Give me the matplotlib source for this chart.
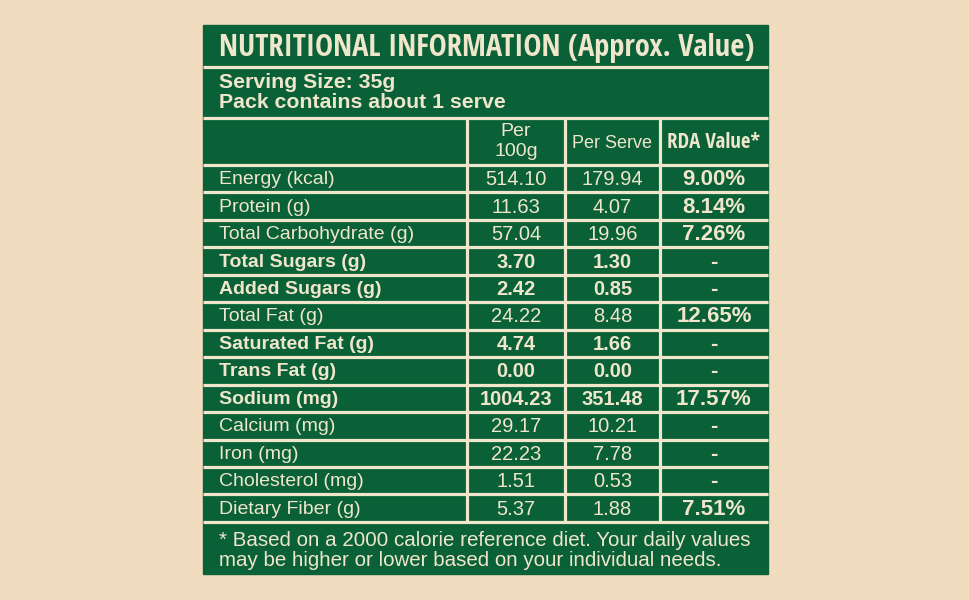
import matplotlib.pyplot as plt
from matplotlib.patches import Rectangle

# Data
nutrients = ["Energy (kcal)", "Protein (g)", "Total Carbohydrate (g)", "Total Sugars (g)",
             "Added Sugars (g)", "Total Fat (g)", "Saturated Fat (g)", "Trans Fat (g)",
             "Sodium (mg)", "Calcium (mg)", "Iron (mg)", "Cholesterol (mg)", "Dietary Fiber (g)"]
per_100g = ["514.10", "11.63", "57.04", "3.70", "2.42", "24.22", "4.74", "0.00",
            "1004.23", "29.17", "22.23", "1.51", "5.37"]
per_serve = ["179.94", "4.07", "19.96", "1.30", "0.85", "8.48", "1.66", "0.00",
             "351.48", "10.21", "7.78", "0.53", "1.88"]
rda = ["9.00%", "8.14%", "7.26%", "-", "-", "12.65%", "-", "-",
       "17.57%", "-", "-", "-", "7.51%"]
bold_rows = [False, False, False, True, True, False, True, True, True, False, False, False, False]

title = "NUTRITIONAL INFORMATION (Approx. Value)"
serving = ["Serving Size: 35g", "Pack contains about 1 serve"]
footnote = ["* Based on a 2000 calorie reference diet. Your daily values",
            "may be higher or lower based on your individual needs."]

# Styling / layout
bg = "#F2DCC0"
green = "#0A6137"
cream = "#EFE6CC"
lw = 2.3
sans = "Liberation Sans"
narrow = "Open Sans Condensed"

fig = plt.figure(figsize=(9.7, 6.0), dpi=100)
fig.patch.set_facecolor(bg)
ax = fig.add_axes([0, 0, 1, 1])
ax.set_xlim(0, 970)
ax.set_ylim(600, 0)
ax.axis("off")

left, right, top, bottom = 203, 768, 25, 574
ax.add_patch(Rectangle((left, top), right - left, bottom - top, color=green, zorder=1))

col_x = [467, 565, 660]
hdr_top, row_top, step = 118, 165, 27.45
row_bot = row_top + step * len(nutrients)

# grid lines
for y in [67, hdr_top, row_top] + [row_top + step * (i + 1) for i in range(len(nutrients))]:
    ax.plot([left, right], [y, y], color=cream, lw=lw, zorder=2, solid_capstyle="butt")
for x in col_x:
    ax.plot([x, x], [hdr_top, row_bot], color=cream, lw=lw, zorder=2, solid_capstyle="butt")

# title + serving info
ax.text(219, 48, title, color=cream, fontsize=22, fontweight="bold",
        family=narrow, va="center", ha="left", zorder=3)
ax.text(219, 82, serving[0], color=cream, fontsize=15.3, fontweight="bold",
        family=sans, va="center", ha="left")
ax.text(219, 103, serving[1], color=cream, fontsize=15.3, fontweight="bold",
        family=sans, va="center", ha="left")

# column headers
centers = [(col_x[0] + col_x[1]) / 2, (col_x[1] + col_x[2]) / 2, (col_x[2] + right) / 2]
ax.text(centers[0], 131, "Per", color=cream, fontsize=14, family=sans, ha="center", va="center")
ax.text(centers[0], 152, "100g", color=cream, fontsize=14, family=sans, ha="center", va="center")
ax.text(centers[1], 143, "Per Serve", color=cream, fontsize=13, family=sans, ha="center", va="center")
ax.text(centers[2], 143, "RDA Value*", color=cream, fontsize=15, fontweight="bold",
        family=narrow, ha="center", va="center")

# rows
for i, name in enumerate(nutrients):
    yc = row_top + step * i + step / 2 + 1
    w = "bold" if bold_rows[i] else "normal"
    ax.text(219, yc, name, color=cream, fontsize=14, fontweight=w, family=sans, ha="left", va="center")
    ax.text(centers[0], yc, per_100g[i], color=cream, fontsize=14.5, fontweight=w, family=sans,
            ha="center", va="center")
    ax.text(centers[1], yc, per_serve[i], color=cream, fontsize=14.5, fontweight=w, family=sans,
            ha="center", va="center")
    ax.text(centers[2], yc, rda[i], color=cream, fontsize=16, fontweight="bold", family=sans,
            ha="center", va="center")

# footnote
ax.text(219, 540, footnote[0], color=cream, fontsize=14.8, family=sans, ha="left", va="center")
ax.text(219, 560, footnote[1], color=cream, fontsize=14.8, family=sans, ha="left", va="center")

fig.savefig("out.png", dpi=100, facecolor=bg)
